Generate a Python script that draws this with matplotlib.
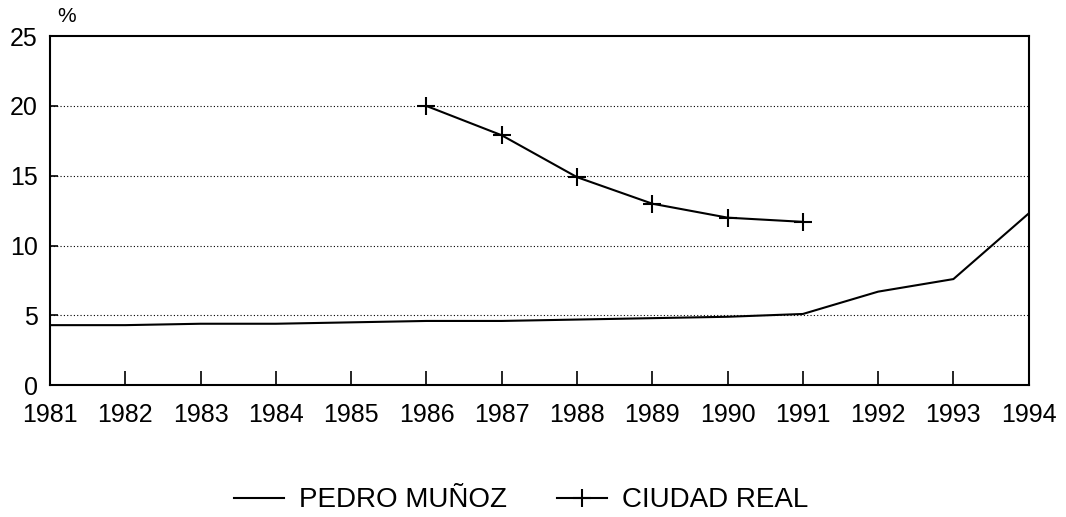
import numpy as np
import matplotlib
matplotlib.use("Agg")
import matplotlib.pyplot as plt

plt.rcParams['font.family'] = ['Liberation Sans', 'DejaVu Sans']

# values
years = [1981, 1982, 1983, 1984, 1985, 1986, 1987,
         1988, 1989, 1990, 1991, 1992, 1993, 1994]
pedro_munoz = [4.3, 4.3, 4.4, 4.4, 4.5, 4.6, 4.6,
               4.7, 4.8, 4.9, 5.1, 6.7, 7.6, 12.3]
cr_years = [1986, 1987, 1988, 1989, 1990, 1991]
ciudad_real = [20.0, 17.9, 14.9, 13.0, 12.0, 11.7]
y_ticks = [0, 5, 10, 15, 20, 25]

fig = plt.figure(figsize=(10.66, 5.17), dpi=100)
ax = fig.add_axes([0.047, 0.255, 0.918, 0.675])

ax.plot(years, pedro_munoz, color='black', lw=1.5, label='PEDRO MUÑOZ')
ax.plot(cr_years, ciudad_real, color='black', lw=1.5, marker='+',
        markersize=13, markeredgewidth=1.5, label='CIUDAD REAL')

ax.set_xlim(1981, 1994)
ax.set_ylim(0, 25)
ax.set_xticks(years)
ax.set_xticklabels([str(y) for y in years])
ax.set_yticks(y_ticks)

for v in y_ticks[1:-1]:
    ax.axhline(v, color='black', lw=0.8, ls=(0, (1, 2)), zorder=0)

for s in ax.spines.values():
    s.set_linewidth(1.5)

ax.tick_params(axis='x', direction='in', length=10, width=1.2,
               labelsize=18, pad=13)
ax.tick_params(axis='y', direction='in', length=6, width=1.2,
               labelsize=18, pad=9)

ax.text(0.007, 1.029, '%', transform=ax.transAxes, fontsize=15,
        ha='left', va='bottom')

leg = fig.legend(loc='center', bbox_to_anchor=(0.489, 0.032), ncol=2,
                 frameon=False, fontsize=20, handlelength=1.8,
                 columnspacing=1.8, handletextpad=0.55)

fig.savefig('out.png', dpi=100)
